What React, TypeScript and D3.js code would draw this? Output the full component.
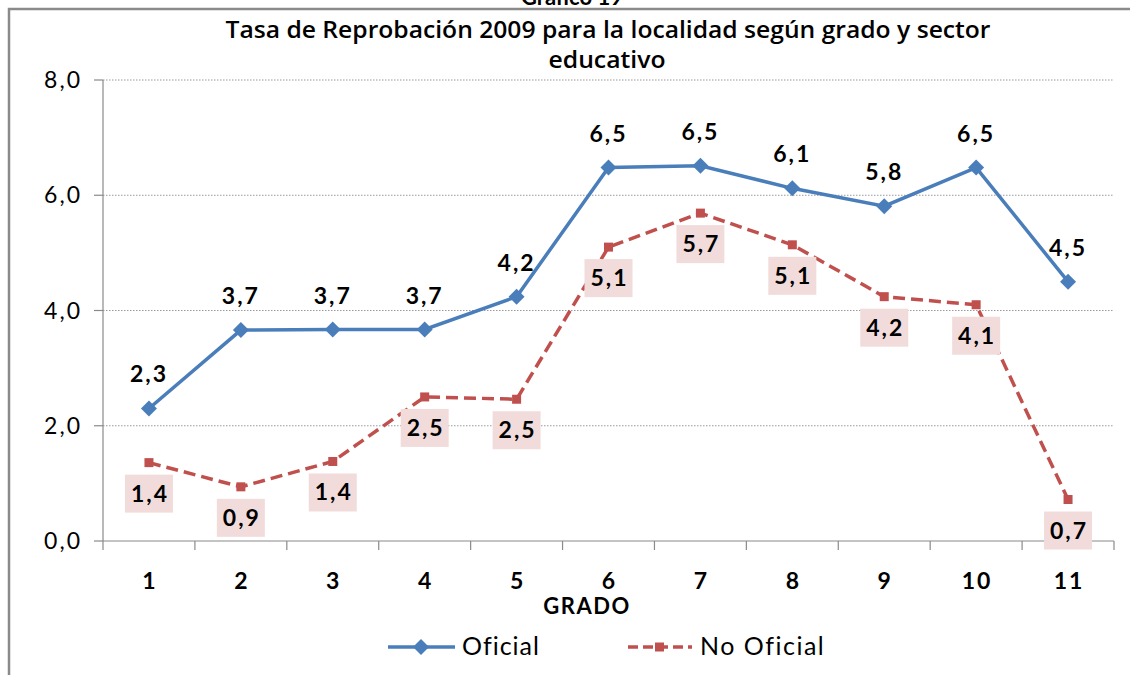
import React from "react";
import * as d3 from "d3";

const grades = ["1", "2", "3", "4", "5", "6", "7", "8", "9", "10", "11"];
const oficial = [2.3, 3.66, 3.67, 3.67, 4.24, 6.48, 6.51, 6.12, 5.81, 6.48, 4.5];
const noOficial = [1.36, 0.94, 1.38, 2.5, 2.46, 5.1, 5.69, 5.14, 4.24, 4.1, 0.72];
const yTicks = [0, 2, 4, 6, 8];
const titleLines = ["Tasa de Reprobación 2009 para la localidad según grado y sector", "educativo"];
const seriesNames = ["Oficial", "No Oficial"];

const W = 1130;
const H = 675;
const BLUE = "#4a7ebb";
const RED = "#c0504d";
const PINK = "#f2dcdb";
const FONT = "Lato, 'Open Sans', sans-serif";

export default function App() {
  const x = d3.scaleBand<string>().domain(grades).range([103, 1114]);
  const y = d3.scaleLinear().domain([0, 8]).range([541, 80]);
  const cx = (g: string) => (x(g) as number) + x.bandwidth() / 2;
  const line = d3
    .line<number>()
    .x((_, i) => cx(grades[i]))
    .y((d) => y(d));
  const fmt = (v: number) => v.toFixed(1).replace(".", ",");
  const boundaries = [...grades.map((g) => x(g) as number), 1114];

  const diamond = (px: number, py: number, r: number) =>
    `M${px},${py - r}L${px + r},${py}L${px},${py + r}L${px - r},${py}Z`;

  const LS = 2; // letter spacing for numbers

  return (
    <svg
      width={W}
      height={H}
      style={{ position: "absolute", left: 0, top: 0, display: "block", background: "#fff" }}
      fontFamily={FONT}
    >
      {/* top cut caption */}
      <text x={572} y={5} textAnchor="middle" fontSize={22} fontWeight={700} fill="#000">
        Gráfico 19
      </text>
      {/* frame */}
      <rect x={9} y={9} width={W + 20} height={H + 20} fill="#fff" stroke="#8a8a8a" strokeWidth={2.5} />

      {/* title */}
      <text x={608} y={38} textAnchor="middle" fontSize={24} fontWeight={600} fill="#000" textLength={765} lengthAdjust="spacingAndGlyphs" fontFamily="'Open Sans', sans-serif">
        {titleLines[0]}
      </text>
      <text x={607} y={68} textAnchor="middle" fontSize={24} fontWeight={600} fill="#000" textLength={117} lengthAdjust="spacingAndGlyphs" fontFamily="'Open Sans', sans-serif">
        {titleLines[1]}
      </text>

      {/* gridlines */}
      {yTicks.slice(1).map((t) => (
        <line key={"g" + t} x1={103} x2={1114} y1={y(t)} y2={y(t)} stroke="#9a9a9a" strokeWidth={1} strokeDasharray="1.5,1.5" />
      ))}
      {/* y axis */}
      <line x1={103} x2={103} y1={y(8)} y2={y(0)} stroke="#8a8a8a" strokeWidth={1.2} />
      {yTicks.map((t) => (
        <g key={"yt" + t}>
          <line x1={94} x2={103} y1={y(t)} y2={y(t)} stroke="#8a8a8a" strokeWidth={1.2} />
          <text x={80 + LS} y={y(t) + 8} textAnchor="end" fontSize={23} fill="#000" letterSpacing={LS}>
            {fmt(t)}
          </text>
        </g>
      ))}
      {/* x axis */}
      <line x1={103} x2={1114} y1={y(0)} y2={y(0)} stroke="#8a8a8a" strokeWidth={1.2} />
      {boundaries.map((b, i) => (
        <line key={"xt" + i} x1={b} x2={b} y1={y(0)} y2={y(0) + 9} stroke="#8a8a8a" strokeWidth={1.2} />
      ))}
      {grades.map((g) => (
        <text key={"xl" + g} x={cx(g) + 1} y={589} textAnchor="middle" fontSize={23} fontWeight={700} fill="#000" letterSpacing={LS}>
          {g}
        </text>
      ))}
      <text x={587} y={614} textAnchor="middle" fontSize={22} fontWeight={700} fill="#000" letterSpacing={1.5}>
        GRADO
      </text>

      {/* No Oficial series */}
      <path d={line(noOficial) as string} fill="none" stroke={RED} strokeWidth={3.5} strokeDasharray="12,6" />
      {noOficial.map((v, i) => (
        <rect key={"ns" + i} x={cx(grades[i]) - 4.5} y={y(v) - 4.5} width={9} height={9} fill={RED} />
      ))}
      {/* Oficial series */}
      <path d={line(oficial) as string} fill="none" stroke={BLUE} strokeWidth={3.5} />
      {oficial.map((v, i) => (
        <path key={"od" + i} d={diamond(cx(grades[i]), y(v), 8)} fill={BLUE} />
      ))}

      {/* Oficial labels */}
      {oficial.map((v, i) => (
        <text key={"ol" + i} x={cx(grades[i]) + LS / 2 - 1} y={y(v) - 26} textAnchor="middle" fontSize={23} fontWeight={700} fill="#000" letterSpacing={LS}>
          {fmt(v)}
        </text>
      ))}
      {/* No Oficial labels */}
      {noOficial.map((v, i) => (
        <g key={"nl" + i}>
          <rect x={cx(grades[i]) - 24} y={y(v) + 12} width={48} height={38} fill={PINK} />
          <text x={cx(grades[i]) + LS / 2} y={y(v) + 39} textAnchor="middle" fontSize={23} fontWeight={700} fill="#000" letterSpacing={LS}>
            {fmt(v)}
          </text>
        </g>
      ))}

      {/* legend */}
      <line x1={388} x2={455} y1={647} y2={647} stroke={BLUE} strokeWidth={3.5} />
      <path d={diamond(421, 647, 8)} fill={BLUE} />
      <text x={462} y={655} fontSize={25} fill="#000" letterSpacing={1}>
        {seriesNames[0]}
      </text>
      <line x1={628} x2={692} y1={647} y2={647} stroke={RED} strokeWidth={3.5} strokeDasharray="10,5" />
      <rect x={655} y={642.5} width={9} height={9} fill={RED} />
      <text x={700} y={655} fontSize={25} fill="#000" letterSpacing={1.5}>
        {seriesNames[1]}
      </text>
    </svg>
  );
}
